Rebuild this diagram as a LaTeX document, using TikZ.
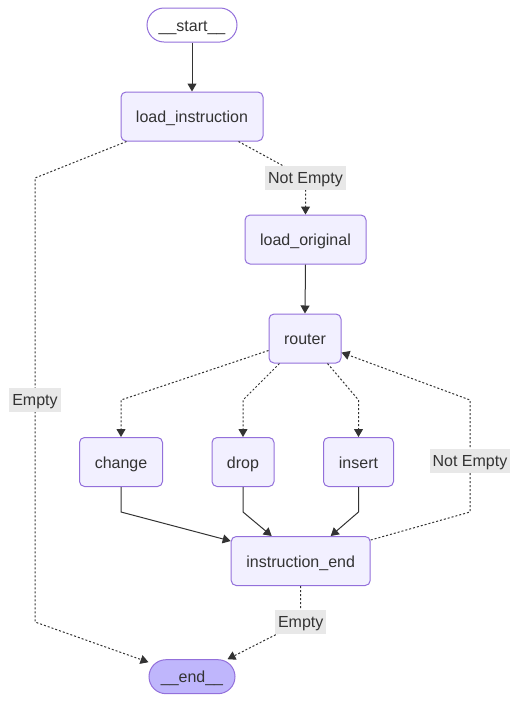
\documentclass[tikz,border=0pt]{standalone}
\usepackage{fontspec}
\setmainfont{Liberation Sans}
\usetikzlibrary{arrows.meta}
\definecolor{nodefill}{HTML}{F2F0FF}
\definecolor{lastfill}{HTML}{BFB6FC}
\definecolor{nodeline}{HTML}{9370DB}
\definecolor{edgecol}{HTML}{333333}
\definecolor{labelfill}{HTML}{E8E8E8}
\begin{document}
\begin{tikzpicture}[x=1pt,y=-1pt,
  box/.style={draw=nodeline, fill=nodefill, rounded corners=5pt, line width=1pt,
    minimum height=49pt, inner sep=0pt, text=edgecol, font=\fontsize{16}{19}\selectfont,
    text height=12pt, text depth=0pt},
  term/.style={box, rounded corners=17pt, minimum height=34pt},
  flow/.style={draw=edgecol, line width=1pt, -{Triangle[width=9pt,length=8pt]}},
  dotflow/.style={flow, dash pattern=on 2pt off 2pt},
  elabel/.style={fill=labelfill, text=edgecol, font=\fontsize{16}{19}\selectfont,
    inner xsep=3pt, inner ysep=0pt, minimum height=24pt, text height=11pt, text depth=0pt}]
\useasboundingbox (0,0) rectangle (520,702);
% nodes

\node[term, fill=white, minimum width=90pt] (start) at (192,25) {\_\_start\_\_};
\node[box, minimum width=142pt] (li) at (192,116.5) {load\_instruction};
\node[box, minimum width=121pt] (lo) at (305.5,239.5) {load\_original};
\node[box, minimum width=72pt] (router) at (305,338.5) {router};
\node[box, minimum width=83pt] (change) at (121,462) {change};
\node[box, minimum width=62pt] (drop) at (243,462) {drop};
\node[box, minimum width=70pt] (insert) at (358.5,462) {insert};
\node[box, minimum width=139pt] (ie) at (300.7,561) {instruction\_end};
\node[term, fill=lastfill, minimum width=86pt] (end) at (192,676.7) {\_\_end\_\_};

% arrows
\draw[flow] (start.south) -- (li.north);
\draw[dotflow] ([xshift=-25pt]li.south east) -- (305.5,178) node[elabel] {Not Empty} -- (lo.north);
\draw[dotflow] ([xshift=6pt]li.south west) -- (35,178) -- (35,400) node[elabel] {Empty}
  -- (35,622) -- ([yshift=-3pt]end.north west);
\draw[flow] (lo.south) -- (router.north);
\draw[dotflow] ([yshift=-12pt]router.west) -- (121,400) -- (change.north);
\draw[dotflow] ([xshift=11pt]router.south west) -- (243,400) -- (drop.north);
\draw[dotflow] ([xshift=-14pt]router.south east) -- (358.5,400) -- (insert.north);
\draw[flow] (change.south) -- (121,512) -- ([yshift=-5pt]ie.north west);
\draw[flow] (drop.south) -- (243,512) -- ([xshift=41pt]ie.north west);
\draw[flow] (insert.south) -- (358.5,512) -- ([xshift=-40pt]ie.north east);
\draw[dotflow] ([yshift=-4pt]ie.north east) -- (470,512) -- (470,461) node[elabel] {Not Empty}
  -- (470,400) -- ([yshift=-14pt]router.east);
\draw[dotflow] (ie.south) -- (300.7,622) node[elabel] {Empty} -- ([xshift=-8pt]end.north east);

\end{tikzpicture}
\end{document}
